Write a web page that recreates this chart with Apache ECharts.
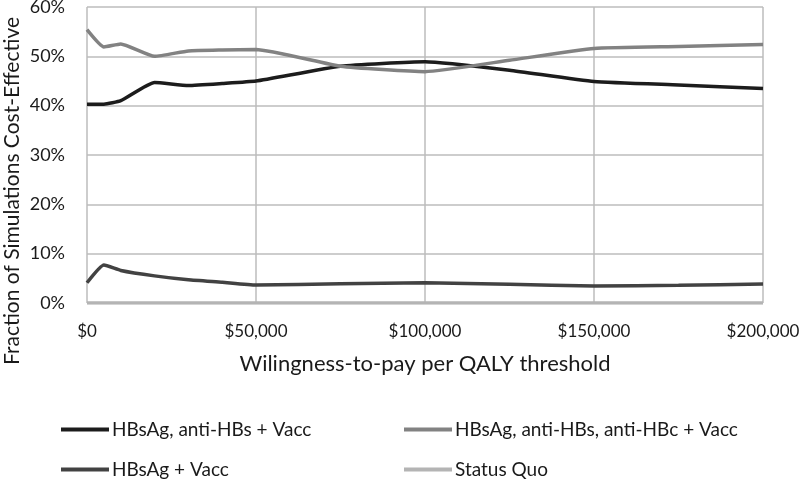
<!DOCTYPE html>
<html><head><meta charset="utf-8">
<script src="https://cdn.jsdelivr.net/npm/echarts@6/dist/echarts.min.js"></script>
<style>html,body{margin:0;padding:0;background:#fff}#c{width:800px;height:480px}</style>
</head><body><div id="c"></div>
<script>
const thresholds = [0, 5000, 10000, 20000, 30000, 40000, 50000, 75000, 100000, 125000, 150000, 175000, 200000];
const seriesNames = ['HBsAg, anti-HBs + Vacc', 'HBsAg, anti-HBs, anti-HBc + Vacc', 'HBsAg + Vacc', 'Status Quo'];
const antiHBsVacc = [40.3, 40.3, 41.0, 44.7, 44.1, 44.5, 45.0, 48.0, 48.9, 47.2, 44.9, 44.2, 43.5];
const antiHBcVacc = [55.4, 51.9, 52.5, 50.0, 51.1, 51.3, 51.4, 48.0, 46.9, 49.2, 51.6, 52.0, 52.4];
const hbsagVacc = [4.1, 7.7, 6.6, 5.5, 4.7, 4.2, 3.65, 3.9, 4.1, 3.8, 3.45, 3.6, 3.85];
const statusQuo = [0, 0, 0, 0, 0, 0, 0, 0, 0, 0, 0, 0, 0];
const yTicks = ['0%', '10%', '20%', '30%', '40%', '50%', '60%'];
const xTickLabels = ['$0', '$50,000', '$100,000', '$150,000', '$200,000'];
const xTitle = 'Wilingness-to-pay per QALY threshold';
const yTitle = 'Fraction of Simulations Cost-Effective';

const colors = ['#1c1c1c', '#828282', '#424242', '#b4b4b4'];
const font = 'Lato';
const txt = '#1a1a1a';
function pairs(arr){ return thresholds.map((x,i)=>[x, arr[i]]); }
const dataSets = [antiHBsVacc, antiHBcVacc, hbsagVacc, statusQuo];
const legendPos = [[61, 420], [404, 420], [61, 460], [404, 460]];

const chart = echarts.init(document.getElementById('c'));
chart.setOption({
  animation: false,
  textStyle: {fontFamily: font},
  grid: {left: 87, right: 37, top: 7, bottom: 177, outerBoundsMode: 'none', containLabel: false},
  graphic: [{
    type: 'text', x: 12, y: 191, rotation: Math.PI/2,
    style: {text: yTitle, font: '21px Lato', fill: txt, align: 'center', verticalAlign: 'middle'}
  }],
  xAxis: {
    type: 'value', min: 0, max: 200000, interval: 50000,
    name: xTitle, nameLocation: 'middle', nameGap: 50,
    nameTextStyle: {fontSize: 22, color: txt, fontFamily: font},
    axisLine: {show: false}, axisTick: {show: false},
    axisLabel: {fontSize: 17, color: txt, margin: 20,
      formatter: v => xTickLabels[Math.round(v/50000)]},
    splitLine: {show: true, lineStyle: {color: '#bdbdbd', width: 1.5}}
  },
  yAxis: {
    type: 'value', min: 0, max: 60, interval: 10,
    axisLine: {show: false}, axisTick: {show: false},
    axisLabel: {fontSize: 18, color: txt, margin: 22,
      formatter: v => yTicks[Math.round(v/10)]},
    splitLine: {show: true, lineStyle: {color: '#bdbdbd', width: 1.5}}
  },
  legend: legendPos.map((p, i) => ({
    left: p[0], top: p[1], itemWidth: 48, itemHeight: 4, icon: 'rect', padding: 0,
    textStyle: {fontSize: 19, color: txt, fontFamily: font, padding: [0,0,0,-2]},
    data: [seriesNames[i]]
  })),
  series: [3,0,1,2].map(i => ({
    name: seriesNames[i], type: 'line', data: pairs(dataSets[i]),
    showSymbol: false, smooth: 0.15, z: i===3 ? 1 : 3,
    lineStyle: {color: colors[i], width: 3.5}, itemStyle: {color: colors[i]}
  }))
});
</script></body></html>
